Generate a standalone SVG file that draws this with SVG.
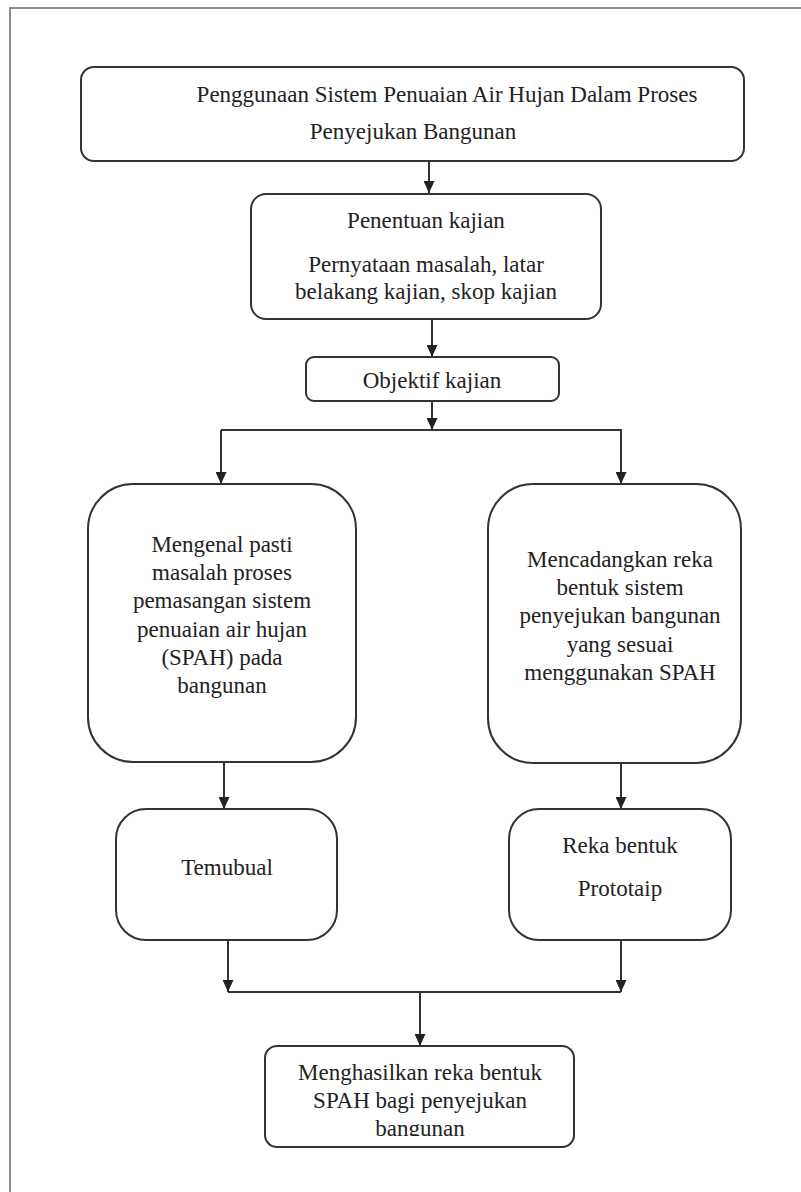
<svg xmlns="http://www.w3.org/2000/svg" width="801" height="1192" viewBox="0 0 801 1192">
<defs>
<style>
.box{fill:#fff;stroke:#333;stroke-width:2}
.t{font-family:"Liberation Serif","Times New Roman",serif;font-size:23px;fill:#222;text-anchor:middle}
.c{fill:none;stroke:#333;stroke-width:2}
.frame{fill:none;stroke:#8c8c8c;stroke-width:2}
</style>
<marker id="ah" viewBox="0 0 10 10" markerWidth="12" markerHeight="11" refX="10" refY="5" orient="auto" markerUnits="userSpaceOnUse" preserveAspectRatio="none">
<path d="M0,0 L10,5 L0,10 z" fill="#222"/>
</marker>
<clipPath id="clipFinal"><rect x="265" y="1046" width="310" height="90"/></clipPath>
</defs>
<rect width="801" height="1192" fill="#fff"/>
<path class="frame" d="M10,1192 V8 H801"/>

<g id="connectors">
<path class="c" d="M429,161 V193" marker-end="url(#ah)"/>
<path class="c" d="M432,319 V357" marker-end="url(#ah)"/>
<path class="c" d="M432,401 V430" marker-end="url(#ah)"/>
<path class="c" d="M221,430 H621 V484" marker-end="url(#ah)"/>
<path class="c" d="M221,430 V484" marker-end="url(#ah)"/>
<path class="c" d="M224,762 V809" marker-end="url(#ah)"/>
<path class="c" d="M621,763 V809" marker-end="url(#ah)"/>
<path class="c" d="M228,940 V992" marker-end="url(#ah)"/>
<path class="c" d="M621,940 V992" marker-end="url(#ah)"/>
<path class="c" d="M228,992 H621"/>
<path class="c" d="M420,992 V1046" marker-end="url(#ah)"/>
</g>

<g id="n1">
<rect class="box" x="81" y="67" width="663" height="94" rx="13"/>
<text class="t" x="447" y="102">Penggunaan Sistem Penuaian Air Hujan Dalam Proses</text>
<text class="t" x="413" y="139">Penyejukan Bangunan</text>
</g>

<g id="n2">
<rect class="box" x="251" y="194" width="350" height="125" rx="15"/>
<text class="t" x="426" y="228">Penentuan kajian</text>
<text class="t" x="426" y="272">Pernyataan masalah, latar</text>
<text class="t" x="426" y="299">belakang kajian, skop kajian</text>
</g>

<g id="n3">
<rect class="box" x="306" y="357" width="253" height="44" rx="8"/>
<text class="t" x="432" y="388">Objektif kajian</text>
</g>

<g id="n4">
<rect class="box" x="88" y="484" width="268" height="278" rx="45"/>
<text class="t" x="222" y="552">Mengenal pasti</text>
<text class="t" x="222" y="580">masalah proses</text>
<text class="t" x="222" y="608">pemasangan sistem</text>
<text class="t" x="222" y="637">penuaian air hujan</text>
<text class="t" x="222" y="665">(SPAH) pada</text>
<text class="t" x="222" y="693">bangunan</text>
</g>

<g id="n5">
<rect class="box" x="488" y="484" width="253" height="279" rx="45"/>
<text class="t" x="620" y="567">Mencadangkan reka</text>
<text class="t" x="620" y="595">bentuk sistem</text>
<text class="t" x="620" y="623">penyejukan bangunan</text>
<text class="t" x="620" y="652">yang sesuai</text>
<text class="t" x="620" y="680">menggunakan SPAH</text>
</g>

<g id="n6">
<rect class="box" x="116" y="809" width="221" height="131" rx="30"/>
<text class="t" x="227" y="875">Temubual</text>
</g>

<g id="n7">
<rect class="box" x="509" y="809" width="222" height="131" rx="30"/>
<text class="t" x="620" y="853">Reka bentuk</text>
<text class="t" x="620" y="896">Prototaip</text>
</g>

<g id="n8">
<rect class="box" x="265" y="1046" width="309" height="101" rx="12"/>
<g clip-path="url(#clipFinal)">
<text class="t" x="420" y="1080">Menghasilkan reka bentuk</text>
<text class="t" x="420" y="1108">SPAH bagi penyejukan</text>
<text class="t" x="420" y="1136">bangunan</text>
</g>
</g>
</svg>
